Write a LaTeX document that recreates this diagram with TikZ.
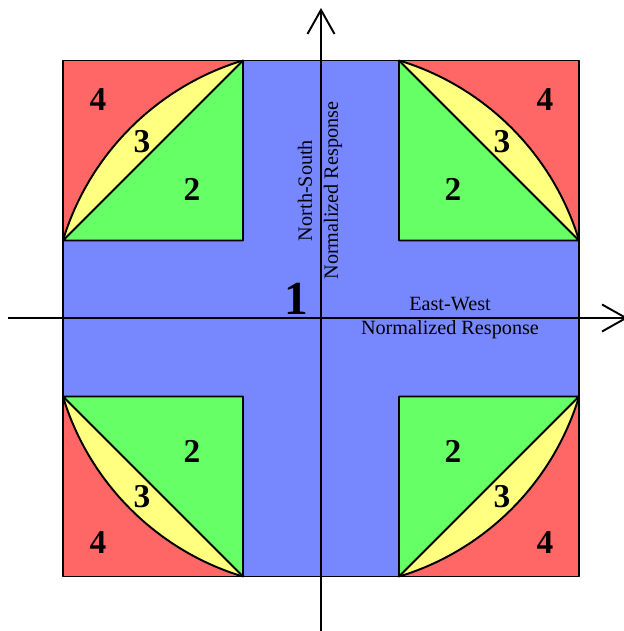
\documentclass[tikz,border=0pt]{standalone}
\usepackage{fontspec}
\setmainfont{Liberation Serif}
\definecolor{zonered}{RGB}{255,102,102}
\definecolor{zoneyellow}{RGB}{255,255,128}
\definecolor{zonegreen}{RGB}{102,255,102}
\definecolor{zoneblue}{RGB}{119,136,255}
\usepackage{tikz}
\usetikzlibrary{arrows.meta}

\begin{document}
\begin{tikzpicture}[
  x=2cm, y=2cm,
  edge/.style={draw=black, line width=1.1pt, line join=round},
  tri/.style={edge, fill=zonegreen},
  num/.style={font=\fontsize{19}{19}\selectfont\bfseries, inner sep=0pt},
  lbl/.style={font=\fontsize{11.5}{13}\selectfont, inner sep=0pt},
  axis/.style={line width=1.1pt, -{Straight Barb[length=0.48cm, width=0.54cm, line width=1.1pt]}}
]
  \useasboundingbox (-3.21,-3.125) rectangle (3.02,3.185);

  % Background zones
  \fill[zonered] (-2.58,-2.58) rectangle (2.58,2.58);
  \begin{scope}
    \clip (0,0) circle (2.695);
    \fill[zoneyellow] (-2.58,-2.58) rectangle (2.58,2.58);
  \end{scope}
  \fill[zoneblue] (-0.78,-2.58) rectangle (0.78,2.58);
  \fill[zoneblue] (-2.58,-0.78) rectangle (2.58,0.78);

  % Corner triangles
  \draw[tri] (-0.78,2.58) -- (-0.78,0.78) -- (-2.58,0.78) -- cycle;
  \draw[tri] (0.78,2.58) -- (0.78,0.78) -- (2.58,0.78) -- cycle;
  \draw[tri] (-0.78,-2.58) -- (-0.78,-0.78) -- (-2.58,-0.78) -- cycle;
  \draw[tri] (0.78,-2.58) -- (0.78,-0.78) -- (2.58,-0.78) -- cycle;

  % Circle and frame
  \begin{scope}
    \clip (-2.58,-2.58) rectangle (2.58,2.58);
    \draw[edge] (0,0) circle (2.695);
  \end{scope}
  \draw[edge] (-2.58,-2.58) rectangle (2.58,2.58);

  % Axes
  \coordinate (ns-s) at (0,-3.14);
  \coordinate (ns-n) at (0,3.105);
  \coordinate (ew-w) at (-3.13,0.005);
  \coordinate (ew-e) at (3.07,0.005);
  \draw[axis] (ns-s) -- (ns-n);
  \draw[axis] (ew-w) -- (ew-e);

  % Zone numbers
  \node[num, font=\fontsize{27}{27}\selectfont\bfseries] (z1) at (-0.25,0.20) {1};

  \node[num] (z2nw) at (-1.29,1.29) {2};
  \node[num] (z2ne) at (1.32,1.29) {2};
  \node[num] (z2sw) at (-1.29,-1.33) {2};
  \node[num] (z2se) at (1.32,-1.33) {2};

  \node[num] (z3nw) at (-1.79,1.77) {3};
  \node[num] (z3ne) at (1.81,1.77) {3};
  \node[num] (z3sw) at (-1.79,-1.78) {3};
  \node[num] (z3se) at (1.81,-1.78) {3};

  \node[num] (z4nw) at (-2.23,2.19) {4};
  \node[num] (z4ne) at (2.24,2.19) {4};
  \node[num] (z4sw) at (-2.23,-2.24) {4};
  \node[num] (z4se) at (2.24,-2.24) {4};

  % Axis labels
  \node[lbl, rotate=90] (ns1) at (-0.16,1.28) {North-South};
  \node[lbl, rotate=90] (ns2) at (0.12,1.28) {Normalized Response};
  \node[lbl] (ew1) at (1.29,0.14) {East-West};
  \node[lbl] (ew2) at (1.29,-0.11) {Normalized Response};
\end{tikzpicture}
\end{document}
